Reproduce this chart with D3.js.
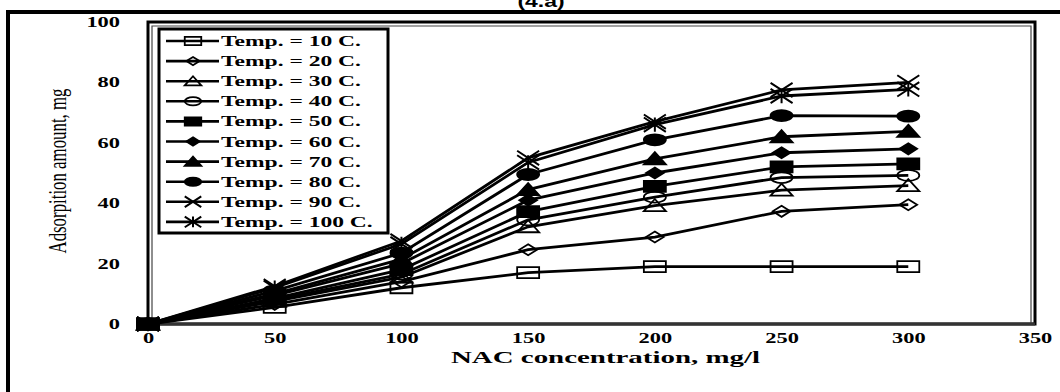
<!DOCTYPE html>
<html>
<head>
<meta charset="utf-8">
<script src="https://cdn.jsdelivr.net/npm/d3@7"></script>
<style>
    body { margin: 0; background: #fff; }
    svg { display: block; }
</style>
</head>
<body>
<div id="chart"></div>
<script>
// NAC concentration, mg/l
var conc = [0, 50, 100, 150, 200, 250, 300]

// adsorption amount, mg  (one array per temperature)
var t10 = [0, 5.5, 12, 17, 19, 19, 19]
var t20 = [0, 6.5, 14, 24.6, 28.8, 37.3, 39.5]
var t30 = [0, 7.5, 15.5, 32.2, 39.2, 44.3, 45.8]
var t40 = [0, 8, 16.5, 34.5, 42, 48.5, 49.2]
var t50 = [0, 8.5, 18, 37.2, 45.6, 52, 53]
var t60 = [0, 9.5, 20, 41, 50, 56.7, 58]
var t70 = [0, 10, 21.5, 44.5, 54.7, 62, 63.8]
var t80 = [0, 11, 23.5, 49.5, 61, 69, 68.8]
var t90 = [0, 12.5, 27.5, 55, 67, 77.5, 80]
var t100 = [0, 12, 26.5, 53.5, 66, 75.5, 77.7]

var seriesNames = ["Temp. = 10 C.", "Temp. = 20 C.", "Temp. = 30 C.", "Temp. = 40 C.", "Temp. = 50 C.",
    "Temp. = 60 C.", "Temp. = 70 C.", "Temp. = 80 C.", "Temp. = 90 C.", "Temp. = 100 C."]
var seriesValues = [t10, t20, t30, t40, t50, t60, t70, t80, t90, t100]
var seriesMarkers = ["square", "diamond", "triangle", "circle", "square", "diamond", "triangle", "circle", "x", "star"]
var seriesFilled = [false, false, false, false, true, true, true, true, false, false]

var xTicks = [0, 50, 100, 150, 200, 250, 300, 350]
var yTicks = [0, 20, 40, 60, 80, 100]

var W = 1060, H = 392
var margin = {top: 22, right: 25, bottom: 68, left: 148}
var width = W - margin.left - margin.right,
    height = H - margin.top - margin.bottom

var serif = "'Liberation Serif', 'Times New Roman', serif"

// widen text like the stretched original
function stretch(sel, k) {
    sel.each(function () {
        var w = this.getComputedTextLength()
        d3.select(this).attr("textLength", w * k).attr("lengthAdjust", "spacingAndGlyphs")
    })
}

function markerPath(type, s) {
    var w = 11 * s, h = 5.5 * s
    if (type == "square") return "M" + (-w) + "," + (-h) + "H" + w + "V" + h + "H" + (-w) + "Z"
    if (type == "diamond") return "M0," + (-h) + "L" + (w * 0.8) + ",0L0," + h + "L" + (-w * 0.8) + ",0Z"
    if (type == "triangle") return "M0," + (-h * 1.2) + "L" + w + "," + h + "L" + (-w) + "," + h + "Z"
    if (type == "circle") return "M" + (-w) + ",0A" + w + "," + h + " 0 1,0 " + w + ",0A" + w + "," + h + " 0 1,0 " + (-w) + ",0Z"
    if (type == "x") return "M" + (-w) + "," + (-h * 1.3) + "L" + w + "," + (h * 1.3) + "M" + (-w) + "," + (h * 1.3) + "L" + w + "," + (-h * 1.3)
    if (type == "star") return "M" + (-w) + "," + (-h * 1.3) + "L" + w + "," + (h * 1.3) + "M" + (-w) + "," + (h * 1.3) + "L" + w + "," + (-h * 1.3) +
        "M0," + (-h * 1.3) + "L0," + (h * 1.3)
}

function drawMarker(g, i, x, y, s) {
    var filled = seriesFilled[i]
    var type = seriesMarkers[i]
    var line = (type == "x" || type == "star")
    g.append("path")
        .attr("d", markerPath(type, s))
        .attr("transform", "translate(" + x + "," + y + ")")
        .attr("fill", filled ? "#000" : "none")
        .attr("stroke", "#000")
        .attr("stroke-width", line ? 2 : 1.8)
}

var svg = d3.select("#chart").append("svg")
    .attr("width", W)
    .attr("height", H)

// outer frame
svg.append("rect")
    .attr("x", 8).attr("y", 12)
    .attr("width", 1080).attr("height", 420)
    .attr("fill", "none").attr("stroke", "#000").attr("stroke-width", 4)

// title (only its lower half shows, like the original)
svg.append("text")
    .attr("x", 541).attr("y", 7)
    .attr("text-anchor", "middle")
    .style("font-family", "'Liberation Sans', Arial, sans-serif")
    .style("font-weight", "bold")
    .style("font-size", "17px")
    .text("(4.a)")
    .call(stretch, 1.35)

var x = d3.scaleLinear().domain([0, 350]).range([0, width])
var y = d3.scaleLinear().domain([0, 100]).range([height, 0])

var g = svg.append("g")
    .attr("transform", "translate(" + margin.left + "," + margin.top + ")")

// plot frame, double line
g.append("rect")
    .attr("x", 0).attr("y", 0)
    .attr("width", width).attr("height", height)
    .attr("fill", "none").attr("stroke", "#000").attr("stroke-width", 3)
g.append("path")
    .attr("d", "M4," + height + "V4H" + (width - 4) + "V" + height)
    .attr("fill", "none").attr("stroke", "#444").attr("stroke-width", 1.2)
g.append("line")
    .attr("x1", 0).attr("x2", width).attr("y1", height).attr("y2", height)
    .attr("stroke", "#333").attr("stroke-width", 3)

// axes
var xAxis = g.append("g")
    .attr("transform", "translate(0," + height + ")")
    .call(d3.axisBottom(x).tickValues(xTicks).tickSize(0).tickPadding(9))
xAxis.select(".domain").remove()
xAxis.selectAll("text")
    .style("font-family", serif).style("font-weight", "bold").style("font-size", "14px")
    .attr("fill", "#000")
    .call(stretch, 1.6)

var yAxis = g.append("g")
    .call(d3.axisLeft(y).tickValues(yTicks).tickSize(0).tickPadding(28))
yAxis.select(".domain").remove()
yAxis.selectAll("text")
    .style("font-family", serif).style("font-weight", "bold").style("font-size", "14px")
    .attr("fill", "#000")
    .call(stretch, 1.6)

// axis titles
svg.append("text")
    .attr("x", margin.left + width / 2 + 14).attr("y", 363)
    .attr("text-anchor", "middle")
    .style("font-family", serif).style("font-weight", "bold").style("font-size", "17px")
    .text("NAC concentration, mg/l")
    .call(stretch, 1.7)

svg.append("text")
    .attr("transform", "translate(66,171) rotate(-90)")
    .attr("text-anchor", "middle")
    .style("font-family", serif).style("font-size", "25px")
    .attr("textLength", 165).attr("lengthAdjust", "spacingAndGlyphs")
    .text("Adsorpition amount, mg")

// lines
var valueline = d3.line()
    .x(function (d, i) { return x(conc[i]) })
    .y(function (d) { return y(d) })

for (var s in seriesValues) {
    g.append("path")
        .data([seriesValues[s]])
        .attr("d", valueline)
        .attr("fill", "none")
        .attr("stroke", "#000")
        .attr("stroke-width", 2.8)
}

// markers
for (var s in seriesValues) {
    var vals = seriesValues[s]
    for (var k in vals) {
        drawMarker(g, s, x(conc[k]), y(vals[k]), 1)
    }
}

// legend
var lg = svg.append("g").attr("transform", "translate(159,29)")
lg.append("rect")
    .attr("x", 0).attr("y", 0).attr("width", 229).attr("height", 204)
    .attr("fill", "#fff").attr("stroke", "#000").attr("stroke-width", 3)

for (var i in seriesNames) {
    var ly = 12 + i * 20.1
    lg.append("line")
        .attr("x1", 7).attr("x2", 60).attr("y1", ly).attr("y2", ly)
        .attr("stroke", "#000").attr("stroke-width", 2.6)
    drawMarker(lg, i, 34, ly, 0.75)
    lg.append("text")
        .attr("x", 62).attr("y", ly + 5)
        .style("font-family", serif).style("font-weight", "bold").style("font-size", "14px")
        .text(seriesNames[i])
        .call(stretch, 1.68)
}
</script>
</body>
</html>
